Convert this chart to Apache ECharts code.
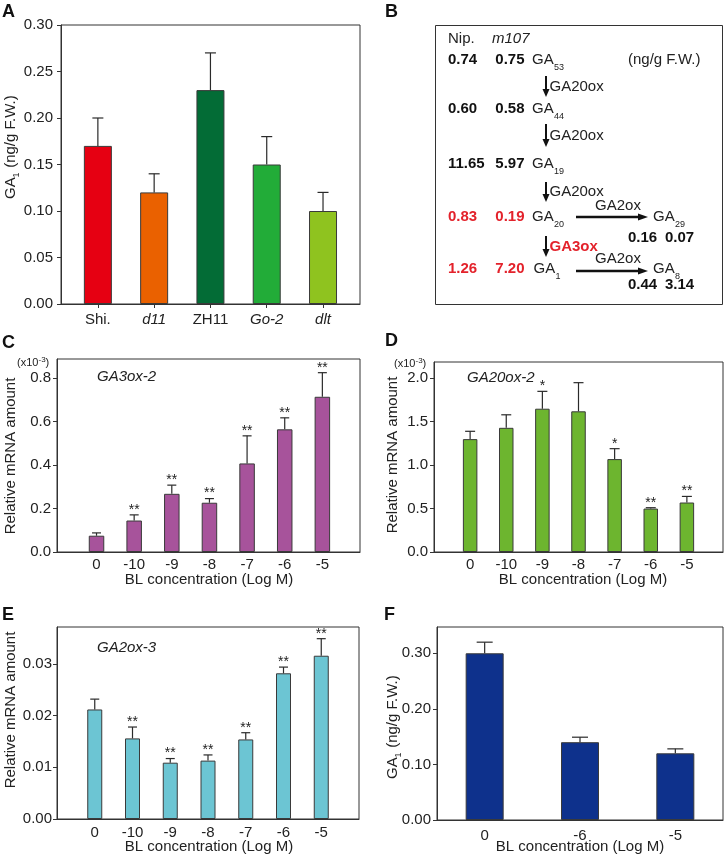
<!DOCTYPE html>
<html><head><meta charset="utf-8">
<script src="https://cdn.jsdelivr.net/npm/echarts@6/dist/echarts.min.js"></script>
<style>html,body{margin:0;padding:0;background:#fff}#c{width:726px;height:858px}</style>
</head><body><div id="c"></div>
<script>
const FONT = '"Liberation Sans", Arial, Helvetica, sans-serif';
const INK = '#222';

// ---- Panel A ----
const catsA = ['Shi.', 'd11', 'ZH11', 'Go-2', 'dlt'];
const italicA = [false, true, false, true, true];
const valsA = [0.17, 0.12, 0.23, 0.15, 0.10];
const errA = [0.03, 0.02, 0.04, 0.03, 0.02];
const colorsA = ['#E60012', '#EA6100', '#036C36', '#22AC38', '#8FC31F'];
const ticksA = [0, 0.05, 0.10, 0.15, 0.20, 0.25, 0.30];

// ---- Panel B (GA metabolism) ----
const bNip = ['0.74', '0.60', '11.65', '0.83', '1.26'];
const bM107 = ['0.75', '0.58', '5.97', '0.19', '7.20'];
const bGA = ['53', '44', '19', '20', '1'];
const bRed = [false, false, false, true, true];
const bEnzymes = ['GA20ox', 'GA20ox', 'GA20ox', 'GA3ox'];
const bSideGA = ['29', '8'];
const bSideEnzyme = ['GA2ox', 'GA2ox'];
const bSideNip = ['0.16', '0.44'];
const bSideM107 = ['0.07', '3.14'];

// ---- Panels C, D, E ----
const catsBL = ['0', '-10', '-9', '-8', '-7', '-6', '-5'];
const valsC = [0.075, 0.145, 0.268, 0.227, 0.408, 0.565, 0.715];
const errC = [0.013, 0.026, 0.040, 0.019, 0.127, 0.053, 0.111];
const sigC = ['', '**', '**', '**', '**', '**', '**'];
const ticksC = [0, 0.2, 0.4, 0.6, 0.8];

const valsD = [1.30, 1.43, 1.65, 1.62, 1.07, 0.50, 0.57];
const errD = [0.09, 0.15, 0.20, 0.33, 0.12, 0.01, 0.07];
const sigD = ['', '', '*', '', '*', '**', '**'];
const ticksD = [0, 0.5, 1.0, 1.5, 2.0];

const valsE = [0.0212, 0.0156, 0.0109, 0.0113, 0.0154, 0.0282, 0.0316];
const errE = [0.0020, 0.0022, 0.0008, 0.0011, 0.0013, 0.0012, 0.0033];
const sigE = ['', '**', '**', '**', '**', '**', '**'];
const ticksE = [0, 0.01, 0.02, 0.03];

// ---- Panel F ----
const catsF = ['0', '-6', '-5'];
const valsF = [0.30, 0.14, 0.12];
const errF = [0.020, 0.009, 0.008];
const ticksF = [0, 0.10, 0.20, 0.30];

const idx7 = catsBL.map((_, i) => i);
const idx5 = catsA.map((_, i) => i);

function errRender(sig, capHalf) {
  return function (params, api) {
    const x = api.value(0), v = api.value(1), e = api.value(2);
    const p0 = api.coord([x, v]);
    const p1 = api.coord([x, v + e]);
    const st = { stroke: '#2a2a2a', lineWidth: 1.2 };
    const ch = [
      { type: 'line', shape: { x1: p0[0], y1: p0[1], x2: p1[0], y2: p1[1] }, style: st },
      { type: 'line', shape: { x1: p1[0] - capHalf, y1: p1[1], x2: p1[0] + capHalf, y2: p1[1] }, style: st }
    ];
    if (sig && sig[params.dataIndex]) {
      ch.push({ type: 'text', x: p1[0], y: p1[1] - 5,
        style: { text: sig[params.dataIndex], fill: INK, fontSize: 14, fontFamily: FONT, align: 'center', verticalAlign: 'middle' } });
    }
    return { type: 'group', children: ch };
  };
}

function yAxis(g, max, ticks, dec, margin) {
  return {
    type: 'value', gridIndex: g, min: 0, max: max,
    axisLine: { show: true, onZero: false, lineStyle: { color: '#333', width: 1 } },
    axisTick: { show: true, length: 4, customValues: ticks, lineStyle: { color: '#333' } },
    axisLabel: { customValues: ticks, formatter: v => v.toFixed(dec), fontSize: 15, color: INK, fontFamily: FONT, margin: margin },
    splitLine: { show: false }
  };
}
function xAxisBL(g, min, max, margin) {
  return {
    type: 'value', gridIndex: g, min: min, max: max,
    axisLine: { show: true, onZero: false, lineStyle: { color: '#333' } },
    axisTick: { show: false },
    axisLabel: { customValues: idx7, formatter: v => catsBL[Math.round(v)], fontSize: 15, color: INK, fontFamily: FONT, margin: margin },
    splitLine: { show: false }
  };
}
function barSeries(g, vals, color, width) {
  return { type: 'bar', xAxisIndex: g, yAxisIndex: g, barWidth: width,
    data: vals.map((v, i) => [i, v]),
    itemStyle: { color: color, borderColor: '#3a3a3a', borderWidth: 1 }, silent: true, animation: false };
}
function errSeries(g, vals, errs, sig, capHalf) {
  return { type: 'custom', xAxisIndex: g, yAxisIndex: g, renderItem: errRender(sig, capHalf),
    data: vals.map((v, i) => [i, v, errs[i]]), z: 5, clip: false, silent: true, animation: false };
}

// ---- graphic helpers ----
function T(x, y, text, o) {
  o = o || {};
  return { type: 'text', x: x, y: y, silent: true,
    style: { text: text, fill: o.fill || INK, fontSize: o.size || 15, fontFamily: FONT,
      fontWeight: o.bold ? 'bold' : 'normal', fontStyle: o.italic ? 'italic' : 'normal',
      align: o.align || 'left', verticalAlign: 'middle' } };
}
function GAsub(x, y, sub, fill) {
  return [T(x, y, 'GA', { fill: fill }), T(x + 22, y + 8, sub, { size: 9, fill: fill })];
}
function vArrow(x, y1, y2) {
  return [
    { type: 'line', silent: true, shape: { x1: x, y1: y1, x2: x, y2: y2 - 6 }, style: { stroke: '#111', lineWidth: 2 } },
    { type: 'polygon', silent: true, shape: { points: [[x - 3.5, y2 - 8], [x + 3.5, y2 - 8], [x, y2]] }, style: { fill: '#111' } }
  ];
}
function hArrow(x1, x2, y) {
  return [
    { type: 'line', silent: true, shape: { x1: x1, y1: y, x2: x2 - 7, y2: y }, style: { stroke: '#111', lineWidth: 2.4 } },
    { type: 'polygon', silent: true, shape: { points: [[x2 - 10, y - 3.5], [x2 - 10, y + 3.5], [x2, y]] }, style: { fill: '#111' } }
  ];
}
function yTitleGA(cx, cy) {
  return { type: 'group', x: cx, y: cy, rotation: Math.PI / 2, silent: true,
    children: [T(-51, 0, 'GA'), T(-29.5, 6, '1', { size: 9 }), T(-24, 0, ' (ng/g F.W.)')] };
}
function yTitleText(cx, cy, text) {
  return { type: 'text', x: cx, y: cy, rotation: Math.PI / 2, silent: true,
    style: { text: text, fill: INK, fontSize: 15, fontFamily: FONT, align: 'center', verticalAlign: 'middle' } };
}
function x10(x, y) {
  return [T(x, y, '(x10', { size: 11 }), T(x + 21.5, y - 3, '-3', { size: 8 }), T(x + 28.5, y, ')', { size: 11 })];
}

const graphics = [];
// panel letters
[['A', 2, 12], ['B', 385, 12], ['C', 2, 343], ['D', 385, 341.5], ['E', 2, 615], ['F', 384, 615.5]].forEach(l => {
  graphics.push(T(l[1], l[2], l[0], { size: 18, bold: true, fill: '#111' }));
});
// Y titles
graphics.push(yTitleGA(11, 148));
graphics.push(yTitleGA(393, 728));
graphics.push(yTitleText(11, 456, 'Relative mRNA amount'));
graphics.push(yTitleText(393, 455, 'Relative mRNA amount'));
graphics.push(yTitleText(11, 710, 'Relative mRNA amount'));
// X titles
[[209, 580], [583, 580], [209, 847], [580, 847]].forEach(p => graphics.push(T(p[0], p[1], 'BL concentration (Log M)', { align: 'center' })));
// gene names
graphics.push(T(97, 377, 'GA3ox-2', { italic: true }));
graphics.push(T(467, 378, 'GA20ox-2', { italic: true }));
graphics.push(T(97, 648, 'GA2ox-3', { italic: true }));
// x10^-3
graphics.push(...x10(17, 363));
graphics.push(...x10(394, 364));

// Panel B
graphics.push({ type: 'rect', silent: true, shape: { x: 435.5, y: 25.5, width: 287, height: 279 }, style: { fill: 'none', stroke: '#333', lineWidth: 1 } });
graphics.push(T(448, 39, 'Nip.'));
graphics.push(T(492, 39, 'm107', { italic: true }));
graphics.push(T(628, 60, '(ng/g F.W.)'));
const RED = '#E3222B';
const rowY = [60, 108.5, 163.5, 217, 268.5];
rowY.forEach((y, i) => {
  const c = bRed[i] ? RED : '#111';
  graphics.push(T(448, y, bNip[i], { bold: true, fill: c }));
  graphics.push(T(524.5, y, bM107[i], { bold: true, fill: c, align: 'right' }));
  graphics.push(...GAsub(i === 4 ? 533.5 : 532, y, bGA[i], INK));
});
const arrowY = [[76, 97], [124, 147], [182, 202], [236, 257]];
arrowY.forEach((a, i) => {
  graphics.push(...vArrow(546, a[0], a[1]));
  const isRed = bEnzymes[i] === 'GA3ox';
  graphics.push(T(549.5, (a[0] + a[1]) / 2, bEnzymes[i], isRed ? { bold: true, fill: RED } : {}));
});
[[217, 206, 237.5], [271, 259, 285]].forEach((r, i) => {
  graphics.push(...hArrow(576, 648, r[0]));
  graphics.push(T(618, r[1], bSideEnzyme[i], { align: 'center' }));
  graphics.push(...GAsub(653, i === 0 ? 217 : 268.5, bSideGA[i], INK));
  graphics.push(T(628, r[2], bSideNip[i], { bold: true, fill: '#111' }));
  graphics.push(T(665, r[2], bSideM107[i], { bold: true, fill: '#111' }));
});

const gridBase = { show: true, borderColor: '#333', borderWidth: 1, backgroundColor: 'transparent', containLabel: false };

const option = {
  animation: false,
  textStyle: { fontFamily: FONT },
  grid: [
    Object.assign({ left: 61, top: 25, width: 299, height: 279 }, gridBase),
    Object.assign({ left: 57, top: 359, width: 303, height: 193 }, gridBase),
    Object.assign({ left: 434, top: 362, width: 289, height: 190 }, gridBase),
    Object.assign({ left: 57, top: 627, width: 302, height: 192 }, gridBase),
    Object.assign({ left: 437, top: 627, width: 286, height: 193 }, gridBase)
  ],
  xAxis: [
    { type: 'value', gridIndex: 0, min: -0.655, max: 4.657,
      axisLine: { show: true, onZero: false, lineStyle: { color: '#333' } },
      axisTick: { show: true, length: 4, customValues: idx5, lineStyle: { color: '#333' } },
      axisLabel: { customValues: idx5, margin: 8, fontSize: 15, color: INK, fontFamily: FONT,
        formatter: v => { const i = Math.round(v); return italicA[i] ? '{i|' + catsA[i] + '}' : catsA[i]; },
        rich: { i: { fontStyle: 'italic', fontSize: 15, color: INK, fontFamily: FONT } } },
      splitLine: { show: false } },
    xAxisBL(1, -1.05, 7.0, 5),
    xAxisBL(2, -1, 7, 5),
    xAxisBL(3, -1, 7, 6),
    { type: 'category', gridIndex: 4, data: catsF, boundaryGap: true,
      axisLine: { show: true, onZero: false, lineStyle: { color: '#333' } }, axisTick: { show: false },
      axisLabel: { margin: 8, fontSize: 15, color: INK, fontFamily: FONT }, splitLine: { show: false } }
  ],
  yAxis: [
    yAxis(0, 0.30, ticksA, 2, 8),
    yAxis(1, 0.889, ticksC, 1, 6),
    yAxis(2, 2.188, ticksD, 1, 6),
    yAxis(3, 0.03716, ticksE, 2, 5),
    yAxis(4, 0.3473, ticksF, 2, 6)
  ],
  series: [
    { type: 'bar', xAxisIndex: 0, yAxisIndex: 0, barWidth: 28, silent: true,
      data: valsA.map((v, i) => ({ value: [i, v], itemStyle: { color: colorsA[i] } })),
      itemStyle: { borderColor: '#3a3a3a', borderWidth: 1 } },
    errSeries(0, valsA, errA, null, 5.5),
    barSeries(1, valsC, '#A7539B', 15.5),
    errSeries(1, valsC, errC, sigC, 4.5),
    barSeries(2, valsD, '#6DB52F', 14.5),
    errSeries(2, valsD, errD, sigD, 5),
    barSeries(3, valsE, '#6CC5D3', 15),
    errSeries(3, valsE, errE, sigE, 4.5),
    { type: 'bar', xAxisIndex: 4, yAxisIndex: 4, barWidth: 38, silent: true, data: valsF,
      itemStyle: { color: '#0E318C', borderColor: '#3a3a3a', borderWidth: 1 } },
    errSeries(4, valsF, errF, null, 8)
  ],
  graphic: { elements: graphics }
};

const chart = echarts.init(document.getElementById('c'), null, { renderer: 'canvas' });
chart.setOption(option);
</script>
</body></html>
